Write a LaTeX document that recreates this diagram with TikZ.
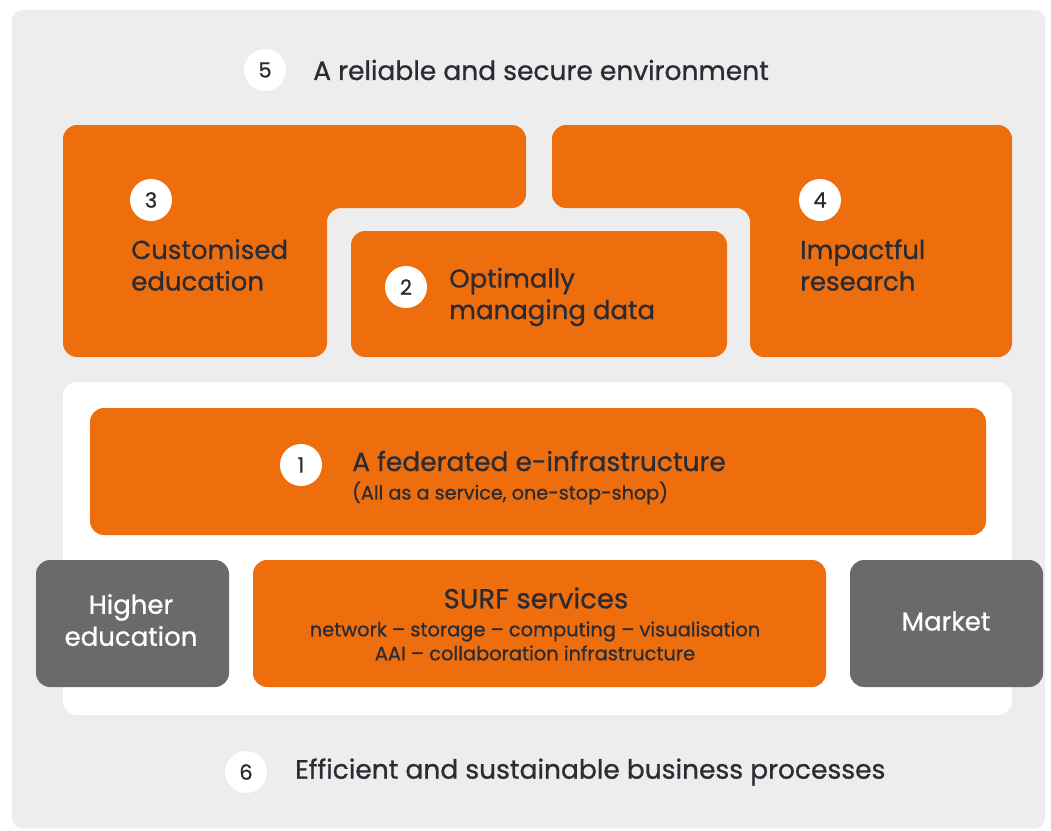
\documentclass[tikz,border=0pt]{standalone}
\usepackage{fontspec}
\setmainfont{Poppins}[FakeBold=0.8]
\definecolor{panel}{HTML}{EDEDED}
\definecolor{surforange}{HTML}{EE6E0E}
\definecolor{boxgray}{HTML}{6A6A6A}
\definecolor{ink}{HTML}{2B2B33}
\tikzset{
  orangebox/.style={fill=surforange, rounded corners=14pt},
  graybox/.style={fill=boxgray, rounded corners=14pt},
  numcircle/.style={circle, fill=white, minimum size=42pt, inner sep=0pt, text=ink, font=\fontsize{21}{21}\selectfont},
  headtext/.style={text=ink, font=\fontsize{26}{31.5}\selectfont, align=left, inner sep=0pt, anchor=west},
  captext/.style={text=ink, font=\fontsize{26.5}{26.5}\selectfont, inner sep=0pt, anchor=west},
  smalltext/.style={text=ink, font=\fontsize{19.4}{24}\selectfont, align=center, inner sep=0pt},
  whitetext/.style={text=white, font=\fontsize{26}{32}\selectfont, align=center, inner sep=0pt}
}
\begin{document}
\begin{tikzpicture}[x=1pt,y=-1pt]
\useasboundingbox (0,0) rectangle (1051,830);
\fill[white] (0,0) rectangle (1051,830);
% outer panel
\fill[panel, rounded corners=10pt] (12,10) rectangle (1045,828);
% white inner panel
\fill[white, rounded corners=14pt] (63,382) rectangle (1012,715);
% shape 3
\fill[orangebox] (63,125) -- (526,125) -- (526,208) -- (327,208) -- (327,357) -- (63,357) -- cycle;
% shape 4
\fill[orangebox] (552,125) -- (1012,125) -- (1012,357) -- (750,357) -- (750,208) -- (552,208) -- cycle;
% box 2
\fill[orangebox] (351,231) rectangle (727,357);
% box 1
\fill[orangebox] (90,408) rectangle (986,535);
% SURF services
\fill[orangebox] (253,560) rectangle (826,687);
% gray boxes
\fill[graybox] (36,560) rectangle (229,687);
\fill[graybox] (850,560) rectangle (1043,687);

% labels
\node[numcircle] (n5) at (265,70) {5};
\node[captext] (t5) at (313,70) {A reliable and secure environment};
\node[numcircle] (n6) at (246,772) {6};
\node[captext] (t6) at (295,772) {Efficient and sustainable business processes};

\node[numcircle] (n3) at (151,200) {3};
\node[headtext] (t3) at (131,265) {Customised\\education};
\node[numcircle] (n2) at (406,287) {2};
\node[headtext] (t2) at (449,297) {Optimally\\managing data};
\node[numcircle] (n4) at (820,200) {4};
\node[headtext] (t4) at (800,265) {Impactful\\research};

\node[numcircle] (n1) at (301,465) {1};
\node[headtext, font=\fontsize{26.5}{26.5}\selectfont] (t1) at (352,461) {A federated e-infrastructure};
\node[text=ink, font=\fontsize{19.2}{19.2}\selectfont, inner sep=0pt, anchor=west] (s1) at (352,493) {(All as a service, one-stop-shop)};

\node[text=ink, font=\fontsize{27.5}{27.5}\selectfont, inner sep=0pt] (surf) at (536,598) {SURF services};
\node[smalltext] (surfsub) at (535,641) {network – storage – computing – visualisation\\AAI – collaboration infrastructure};

\node[whitetext] (he) at (131,620) {Higher\\education};
\node[whitetext] (mk) at (946,621) {Market};
\end{tikzpicture}
\end{document}
